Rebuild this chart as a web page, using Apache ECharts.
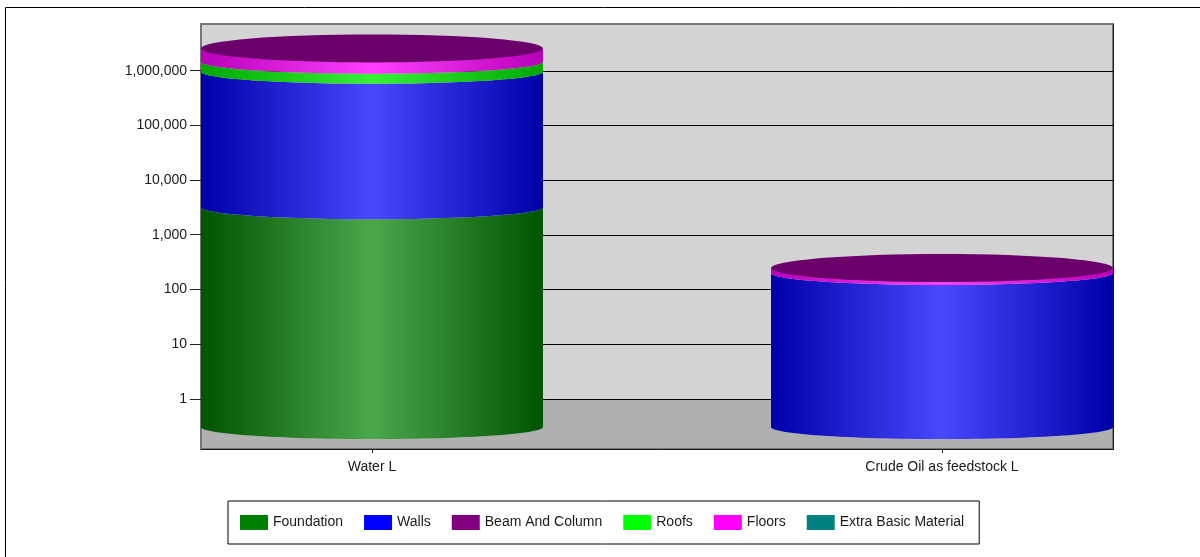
<!DOCTYPE html>
<html>
<head>
<meta charset="utf-8">
<script src="https://cdn.jsdelivr.net/npm/echarts@6/dist/echarts.min.js"></script>
<style>html,body{margin:0;padding:0;background:#fff}#c{width:1200px;height:557px}</style>
</head>
<body>
<div id="c"></div>
<script>
const categories = ['Water L', 'Crude Oil as feedstock L'];
const foundation = [3200, 0];
const walls = [957000, 201];
const roofs = [506000, 0];
const floors = [1094000, 47];
const beamAndColumn = [0, 0];
const extraBasicMaterial = [0, 0];
const legendOrder = ['Foundation', 'Walls', 'Beam And Column', 'Roofs', 'Floors', 'Extra Basic Material'];
const yTicks = [1, 10, 100, 1000, 10000, 100000, 1000000];

const FONT = '"Liberation Sans", Arial, sans-serif';
const axisMin = 0.122, axisMax = 7160000, baseValue = 0.307;
const barHalf = 0.3;

const stackOrder = [
  {name: 'Foundation', values: foundation, color: '#008000', edge: '#005500', mid: '#4ca64c'},
  {name: 'Walls', values: walls, color: '#0000ff', edge: '#0000a8', mid: '#4848ff'},
  {name: 'Roofs', values: roofs, color: '#00ff00', edge: '#00a800', mid: '#38f038'},
  {name: 'Floors', values: floors, color: '#ff00ff', edge: '#b800b8', mid: '#ff40ff'},
  {name: 'Beam And Column', values: beamAndColumn, color: '#800080', edge: '#6b006b', mid: '#6b006b'},
  {name: 'Extra Basic Material', values: extraBasicMaterial, color: '#008080', edge: '#005a5a', mid: '#40a6a6'}
];

// cumulative stack boundaries per category
const running = categories.map(() => baseValue);
const stacked = stackOrder.map(o => o.values.map((v, i) => {
  const low = running[i];
  const high = low === baseValue ? (v > 0 ? v : baseValue) : low + v;
  running[i] = high;
  return [i, low, high];
}));

function arc(cx, cy, rx, ry, fromA, toA) {
  const pts = [];
  const n = 64;
  for (let k = 0; k <= n; k++) {
    const a = fromA + (toA - fromA) * k / n;
    pts.push([cx + rx * Math.cos(a), cy + ry * Math.sin(a)]);
  }
  return pts;
}

const SIDE_RY = 12, CAP_RY = 14, TICK_LEN = 11;

function makeRender(o) {
  return function (params, api) {
    const i = api.value(0), low = api.value(1), high = api.value(2);
    const children = [];
    const isTop = o.name === 'Beam And Column';
    const a = api.coord([i - barHalf, low]);
    const b = api.coord([i + barHalf, high]);
    const cx = (a[0] + b[0]) / 2, rx = (b[0] - a[0]) / 2;
    if (high > low) {
      children.push({
        type: 'polygon',
        shape: {points: arc(cx, a[1], rx, SIDE_RY, Math.PI, 0).concat(arc(cx, b[1], rx, SIDE_RY, 0, Math.PI))},
        style: {
          fill: {type: 'linear', x: 0, y: 0, x2: 1, y2: 0, colorStops: [
            {offset: 0, color: o.edge}, {offset: 0.5, color: o.mid}, {offset: 1, color: o.edge}
          ]}
        }
      });
    }
    if (isTop) {
      children.push({
        type: 'polygon',
        shape: {points: arc(cx, b[1], rx, CAP_RY, 0, Math.PI * 2)},
        style: {fill: o.edge}
      });
    }
    return {type: 'group', children};
  };
}

function renderBackdrop(params, api) {
  const tl = api.coord([api.value(0), axisMax]);
  const mid = api.coord([api.value(1), 1]);
  const br = api.coord([api.value(1), axisMin]);
  return {type: 'group', children: [
    {type: 'rect', shape: {x: tl[0], y: tl[1], width: br[0] - tl[0], height: mid[1] - tl[1]}, style: {fill: '#d3d3d3'}},
    {type: 'rect', shape: {x: tl[0], y: mid[1], width: br[0] - tl[0], height: br[1] - mid[1]}, style: {fill: '#b0b0b0'}}
  ]};
}

function renderFrame(params, api) {
  const tl = api.coord([api.value(0), axisMax]);
  const br = api.coord([api.value(1), axisMin]);
  const stroke = {stroke: '#1c1c1c', lineWidth: 1};
  const lines = [
    {type: 'line', shape: {x1: br[0] + 0.5, y1: tl[1], x2: br[0] + 0.5, y2: br[1] + 1}, style: stroke},
    {type: 'line', shape: {x1: tl[0], y1: br[1] + 0.5, x2: br[0] + 1, y2: br[1] + 0.5}, style: stroke}
  ];
  yTicks.forEach(v => {
    const p = api.coord([api.value(0), v]);
    const y = Math.floor(p[1]) + 0.5;
    lines.push({type: 'line', shape: {x1: p[0] - TICK_LEN, y1: y, x2: p[0], y2: y}, style: {stroke: '#222', lineWidth: 1}});
  });
  return {type: 'group', children: lines};
}

const series = [{
  type: 'custom', name: 'backdrop', z: -2, silent: true, clip: false,
  data: [[-0.3, 1.3]], encode: {x: [0, 1]}, renderItem: renderBackdrop
}, {
  type: 'custom', name: 'frame', z: 1, silent: true, clip: false,
  data: [[-0.3, 1.3]], encode: {x: [0, 1]}, renderItem: renderFrame
}].concat(stackOrder.map((o, idx) => ({
  type: 'custom', name: o.name, z: 3 + idx, clip: false,
  itemStyle: {color: o.color},
  data: stacked[idx], encode: {x: 0, y: [1, 2]},
  renderItem: makeRender(o)
})));

const chart = echarts.init(document.getElementById('c'), null, {renderer: 'canvas'});
chart.setOption({
  animation: false,
  backgroundColor: '#fff',
  textStyle: {fontFamily: FONT},
  graphic: [{
    type: 'rect', z: -5, silent: true,
    shape: {x: 5.5, y: 7.5, width: 1400, height: 800},
    style: {fill: 'none', stroke: '#000', lineWidth: 1}
  }],
  grid: {left: 201, top: 24, width: 912, height: 425, show: true, backgroundColor: 'transparent', borderColor: '#777', borderWidth: 2},
  legend: {
    data: legendOrder, left: 228, top: 501, orient: 'horizontal',
    icon: 'rect', itemWidth: 28, itemHeight: 15, itemGap: 21, padding: [14, 15, 14, 12],
    backgroundColor: '#fff', borderColor: '#000', borderWidth: 1,
    selectedMode: false,
    textStyle: {fontFamily: FONT, fontSize: 14, color: '#1a1a1a'}
  },
  xAxis: {
    type: 'value', min: -0.3, max: 1.3,
    axisLine: {show: false},
    axisTick: {show: true, length: 4, customValues: [0, 1], lineStyle: {color: '#222'}},
    axisLabel: {
      show: true, customValues: [0, 1], margin: 11, color: '#1a1a1a',
      fontFamily: FONT, fontSize: 14, formatter: v => categories[v] || ''
    },
    splitLine: {show: false}
  },
  yAxis: {
    type: 'log', logBase: 10, min: axisMin, max: axisMax,
    axisLine: {show: false},
    axisTick: {show: false},
    minorTick: {show: false},
    axisLabel: {
      margin: 14, color: '#1a1a1a', fontFamily: FONT, fontSize: 14,
      padding: [4, 0, 0, 0],
      showMinLabel: false, showMaxLabel: false,
      formatter: v => Number(v).toLocaleString('en-US')
    },
    splitLine: {show: true, showMinLine: false, showMaxLine: false, lineStyle: {color: '#000', width: 1}}
  },
  series
});
</script>
</body>
</html>
